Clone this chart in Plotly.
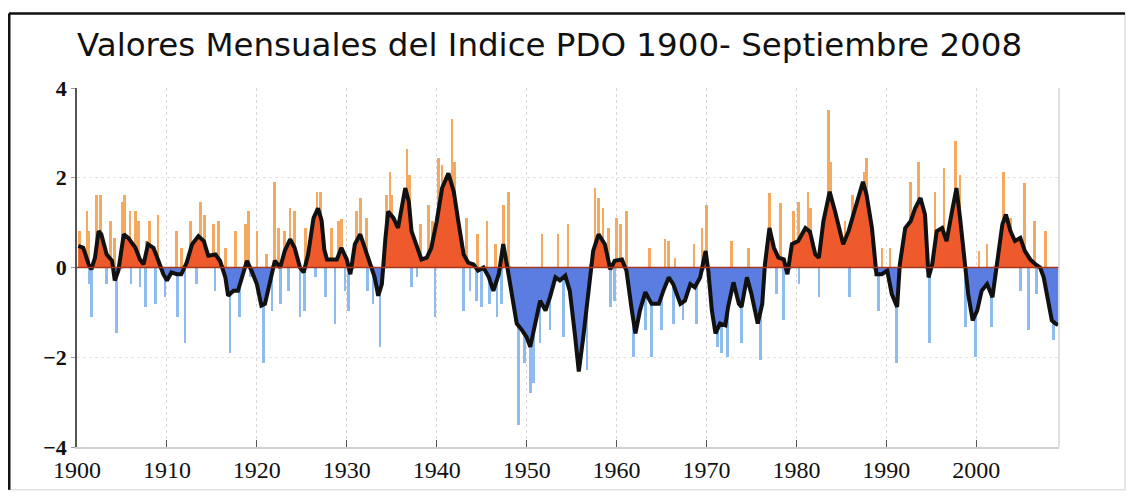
import plotly.graph_objects as go

# smoothed PDO index (black line)
smooth_year = [1900.15, 1900.7, 1901.3, 1901.6, 1902.0, 1902.4, 1902.7, 1903.3, 1903.9, 1904.2,
               1904.6, 1905.2, 1905.7, 1906.5, 1907.0, 1907.4, 1907.9, 1908.5, 1909.0, 1909.6,
               1910.0, 1910.5, 1911.1, 1911.6, 1912.2, 1912.8, 1913.5, 1914.1, 1914.6, 1915.4,
               1915.9, 1916.5, 1916.8, 1917.4, 1917.9, 1918.5, 1918.9, 1919.4, 1920.0, 1920.5,
               1920.9, 1921.5, 1922.0, 1922.6, 1923.1, 1923.7, 1924.2, 1924.8, 1925.2, 1925.7,
               1926.3, 1926.8, 1927.2, 1927.5, 1927.8, 1928.3, 1928.9, 1929.4, 1930.0, 1930.4,
               1930.9, 1931.5, 1932.0, 1932.6, 1933.1, 1933.5, 1933.9, 1934.3, 1934.6, 1935.2,
               1935.7, 1936.5, 1936.9, 1937.2, 1937.8, 1938.3, 1938.9, 1939.4, 1940.0, 1940.6,
               1941.3, 1941.9, 1942.4, 1943.0, 1943.5, 1944.1, 1944.6, 1945.2, 1945.8, 1946.3,
               1946.9, 1947.4, 1947.8, 1948.4, 1948.9, 1949.5, 1950.0, 1950.4, 1950.9, 1951.5,
               1952.1, 1952.6, 1953.2, 1953.7, 1954.3, 1954.8, 1955.4, 1955.8, 1956.3, 1956.9,
               1957.4, 1958.0, 1958.7, 1959.3, 1959.8, 1960.6, 1961.1, 1961.7, 1962.1, 1962.6,
               1963.2, 1963.9, 1964.7, 1965.2, 1965.8, 1966.3, 1967.1, 1967.6, 1968.2, 1968.7,
               1969.3, 1969.9, 1970.2, 1970.6, 1971.0, 1971.5, 1972.1, 1972.4, 1973.0, 1973.6,
               1973.9, 1974.5, 1975.0, 1975.7, 1976.2, 1976.5, 1977.0, 1977.5, 1978.0, 1978.6,
               1979.0, 1979.5, 1980.2, 1981.0, 1981.5, 1982.1, 1982.5, 1983.0, 1983.7, 1984.3,
               1984.9, 1985.2, 1985.8, 1986.3, 1986.9, 1987.4, 1987.8, 1988.4, 1988.9, 1989.5,
               1990.1, 1990.6, 1991.2, 1991.5, 1992.1, 1992.7, 1993.2, 1993.8, 1994.3, 1994.7,
               1995.1, 1995.6, 1996.2, 1996.7, 1997.3, 1997.8, 1998.2, 1998.7, 1999.1, 1999.6,
               2000.1, 2000.6, 2001.2, 2001.8, 2002.3, 2002.9, 2003.3, 2003.8, 2004.3, 2004.9,
               2005.4, 2006.0, 2006.6, 2007.1, 2007.5, 2008.0, 2008.4, 2008.8, 2009.1]
smooth_pdo = [0.48, 0.44, 0.07, -0.04, 0.22, 0.81, 0.74, 0.29, 0.15, -0.29,
              -0.07, 0.74, 0.66, 0.44, 0.18, 0.07, 0.52, 0.44, 0.18, -0.15,
              -0.29, -0.11, -0.15, -0.15, 0.11, 0.52, 0.70, 0.59, 0.26, 0.29,
              0.15, -0.22, -0.63, -0.52, -0.52, -0.15, 0.15, -0.07, -0.37, -0.85,
              -0.81, -0.29, 0.15, 0.0, 0.37, 0.63, 0.44, 0.0, -0.11, 0.29,
              1.10, 1.32, 1.05, 0.40, 0.18, 0.18, 0.18, 0.44, 0.18, -0.15,
              0.52, 0.74, 0.44, 0.11, -0.22, -0.63, -0.37, 0.66, 1.25, 1.10,
              0.88, 1.77, 1.47, 0.81, 0.48, 0.18, 0.22, 0.44, 1.03, 1.77,
              2.10, 1.69, 1.03, 0.29, 0.11, 0.07, -0.07, 0.0, -0.22, -0.52,
              -0.15, 0.52, 0.07, -0.59, -1.25, -1.40, -1.55, -1.77, -1.25, -0.74,
              -0.96, -0.66, -0.22, -0.29, -0.18, -0.52, -1.55, -2.32, -1.55, -0.52,
              0.37, 0.74, 0.52, -0.04, 0.15, 0.18, -0.07, -0.96, -1.47, -0.96,
              -0.55, -0.81, -0.81, -0.52, -0.22, -0.37, -0.81, -0.74, -0.37, -0.44,
              -0.22, 0.37, -0.07, -0.96, -1.47, -1.25, -1.29, -0.88, -0.33, -0.81,
              -0.88, -0.22, -0.59, -1.25, -0.81, 0.07, 0.88, 0.44, 0.22, 0.18,
              -0.15, 0.52, 0.59, 0.88, 0.80, 0.29, 0.22, 1.03, 1.69, 1.25,
              0.74, 0.52, 0.81, 1.18, 1.55, 1.91, 1.62, 0.88, -0.15, -0.15,
              -0.07, -0.59, -0.88, 0.07, 0.88, 1.03, 1.32, 1.55, 1.18, -0.22,
              0.07, 0.81, 0.88, 0.59, 1.25, 1.77, 1.10, 0.07, -0.59, -1.18,
              -0.96, -0.52, -0.37, -0.66, 0.07, 0.96, 1.18, 0.81, 0.59, 0.66,
              0.37, 0.18, 0.07, 0.0, -0.22, -0.81, -1.18, -1.25, -1.28]

# monthly values that stick out beyond the smoothed curve
month_year = [1900.3, 1901.1, 1901.3, 1901.4, 1901.6, 1902.2, 1902.6, 1903.3, 1903.7, 1904.2,
              1904.4, 1905.0, 1905.3, 1905.9, 1906.0, 1906.5, 1906.8, 1907.0, 1907.6, 1907.75,
              1908.1, 1908.7, 1909.0, 1909.8, 1911.1, 1911.2, 1911.6, 1912.0, 1912.6, 1913.3,
              1913.7, 1914.2, 1915.2, 1915.35, 1915.7, 1916.5, 1917.0, 1917.6, 1918.1, 1918.7,
              1919.1, 1919.3, 1920.0, 1920.7, 1921.1, 1921.7, 1922.0, 1922.4, 1922.6, 1923.1,
              1923.5, 1923.7, 1924.2, 1924.8, 1925.3, 1925.4, 1926.5, 1926.7, 1927.1, 1927.6,
              1928.3, 1928.7, 1929.1, 1929.4, 1929.8, 1930.2, 1931.1, 1931.5, 1932.2, 1932.3,
              1932.9, 1933.7, 1934.4, 1934.8, 1935.0, 1936.7, 1937.0, 1937.2, 1937.8, 1938.2,
              1939.1, 1939.5, 1939.8, 1940.2, 1940.6, 1941.7, 1942.0, 1943.0, 1943.3, 1943.7,
              1944.4, 1944.5, 1945.0, 1945.6, 1945.9, 1946.5, 1946.7, 1947.2, 1947.4, 1948.0,
              1949.1, 1949.8, 1950.4, 1950.8, 1951.5, 1951.7, 1952.6, 1953.5, 1954.1, 1954.6,
              1955.4, 1956.7, 1957.6, 1958.0, 1958.5, 1959.1, 1959.3, 1959.8, 1960.0, 1960.4,
              1961.1, 1961.9, 1963.2, 1963.7, 1963.9, 1965.0, 1965.4, 1965.8, 1966.3, 1966.5,
              1967.4, 1968.6, 1968.9, 1969.5, 1970.0, 1971.2, 1971.7, 1972.3, 1972.8, 1973.9,
              1974.7, 1976.0, 1977.0, 1977.8, 1978.2, 1978.6, 1979.7, 1980.2, 1980.3, 1981.3,
              1981.6, 1982.5, 1983.6, 1983.8, 1985.4, 1985.9, 1986.2, 1987.5, 1987.8, 1989.1,
              1989.5, 1990.4, 1991.1, 1992.7, 1993.6, 1994.8, 1995.4, 1996.4, 1997.7, 1998.2,
              1998.8, 1999.9, 2000.3, 2001.2, 2001.7, 2003.0, 2003.8, 2004.9, 2005.4, 2005.8,
              2006.5, 2006.7, 2007.7, 2008.6]
month_pdo = [0.81, 1.25, 0.81, -0.37, -1.10, 1.62, 1.62, -0.37, 1.03, 0.66,
             -1.47, 1.47, 1.62, 1.25, -0.37, 1.25, 1.03, -0.44, -0.88, 0.59,
             1.03, -0.81, 1.18, -0.66, 0.81, -1.10, 0.44, -1.69, 1.03, -0.37,
             1.47, 1.18, 0.96, -0.52, 1.03, 0.44, -1.91, 0.81, -1.10, 0.96,
             1.25, -0.22, 0.81, -2.13, 0.29, -0.96, 1.91, 0.88, -0.81, 0.81,
             -0.52, 1.32, 1.25, -1.10, -0.96, 0.88, -0.22, 1.69, 1.69, -0.66,
             0.88, -1.25, 1.03, 1.07, -0.52, -0.96, 1.25, 1.55, 1.10, -0.52,
             -0.81, -1.77, 1.62, 2.13, 1.62, 2.65, 2.06, -0.44, -0.22, 0.96,
             1.40, 1.03, -1.10, 2.43, 2.28, 3.31, 2.35, -0.96, 1.10, -0.52,
             -0.74, 0.74, -0.88, 1.03, -0.81, 0.52, -1.10, -0.81, 1.40, 1.69,
             -3.50, -2.13, -2.80, -2.58, -1.69, 0.74, -1.40, 0.74, -1.55, 0.96,
             -1.69, -2.28, 1.77, 1.55, 1.32, 0.88, -0.88, -0.74, 1.10, 0.96,
             1.25, -1.99, -1.40, 0.44, -1.99, -1.40, 0.63, 0.59, -1.25, 0.22,
             -1.18, 0.52, -1.25, 0.88, 1.40, -1.77, -1.91, -1.99, 0.59, -1.69,
             0.44, -2.06, 1.66, -0.59, 1.43, -1.18, 1.25, 1.47, -0.37, 1.69,
             1.32, -0.66, 3.50, 2.35, 1.03, -0.66, 1.62, 2.13, 2.43, -0.96,
             0.44, 0.44, -2.13, 1.91, 2.35, -1.69, 1.69, 2.21, 2.83, 2.06,
             -1.32, -1.99, 0.37, 0.52, -1.32, 2.13, 1.10, -0.52, 1.88, -1.40,
             1.03, -0.59, 0.81, -1.62]

decades = list(range(1900, 2001, 10))
y_ticks = [-4, -2, 0, 2, 4]
y_labels = ['\u22124', '\u22122', '0', '2', '4']

# the page body keeps an 8px margin, so the figure is 16px smaller than the window
W, H = 1118, 487
L, T = 69, 80
pw, ph = 982, 362
R, B = W - L - pw, H - T - ph

bar_colors = ['#f5a860' if v > 0 else '#8fbcee' for v in month_pdo]
pos = [max(v, 0) for v in smooth_pdo]
neg = [min(v, 0) for v in smooth_pdo]

fig = go.Figure()
fig.add_trace(go.Bar(x=month_year, y=month_pdo, width=0.3, marker_color=bar_colors,
                     marker_line_width=0, showlegend=False))
fig.add_trace(go.Scatter(x=smooth_year, y=pos, mode='lines', fill='tozeroy',
                         fillcolor='#ee5a2c', line=dict(width=0), showlegend=False))
fig.add_trace(go.Scatter(x=smooth_year, y=neg, mode='lines', fill='tozeroy',
                         fillcolor='#5b7ce0', line=dict(width=0), showlegend=False))
fig.add_shape(type='line', xref='paper', x0=0, x1=1, y0=0, y1=0,
              line=dict(color='#a8361a', width=1.5))
fig.add_trace(go.Scatter(x=smooth_year, y=smooth_pdo, mode='lines',
                         line=dict(color='#111111', width=4), showlegend=False))

# right edge of the plot box
fig.add_shape(type='line', xref='paper', yref='paper', x0=1, x1=1, y0=0, y1=1,
              line=dict(color='#d6d6d6', width=1.5))
# outer frame of the picture: heavy left and top, faint right and bottom
fx0, fx1 = (1 - L) / pw, (W - 1 - L) / pw
fy0, fy1 = (T + ph - (H - 2)) / ph, (T + ph - 5) / ph
fig.add_shape(type='rect', xref='paper', yref='paper', x0=fx0, x1=fx1, y0=fy0, y1=fy1,
              line=dict(color='#e0e0e0', width=1.5))
fig.add_shape(type='line', xref='paper', yref='paper', x0=fx0, x1=fx0, y0=fy0, y1=fy1,
              line=dict(color='#111111', width=3))
fig.add_shape(type='line', xref='paper', yref='paper', x0=fx0, x1=fx1, y0=fy1, y1=fy1,
              line=dict(color='#111111', width=2.5))

fig.update_layout(
    width=W, height=H,
    margin=dict(l=L, r=R, t=T, b=B),
    paper_bgcolor='white', plot_bgcolor='white',
    bargap=0,
    title=dict(text='Valores Mensuales del Indice PDO 1900- Septiembre 2008',
               x=L / W, xanchor='left', y=1 - 37 / H, yanchor='middle',
               font=dict(family='DejaVu Sans', size=32.5, color='#111111')),
)
fig.update_xaxes(range=[1900, 2009.2], tickvals=decades, ticks='inside', ticklen=7,
                 tickcolor='#555555', showline=True, linecolor='#d0d0d0', linewidth=1.5,
                 showgrid=True, gridcolor='#d8d8d8', griddash='dot', zeroline=False,
                 tickfont=dict(family='Liberation Serif', size=24, color='#111111'))
fig.update_yaxes(range=[-4, 4], tickvals=y_ticks, ticktext=y_labels, ticks='outside',
                 ticklen=4, tickcolor='#999999', showline=True, linecolor='#555555',
                 linewidth=1.5, showgrid=True, gridcolor='#e4e4e4', griddash='dot',
                 zeroline=False,
                 tickfont=dict(family='Liberation Serif', size=22, color='#111111',
                               weight='bold'))

fig.write_html('out.html')
